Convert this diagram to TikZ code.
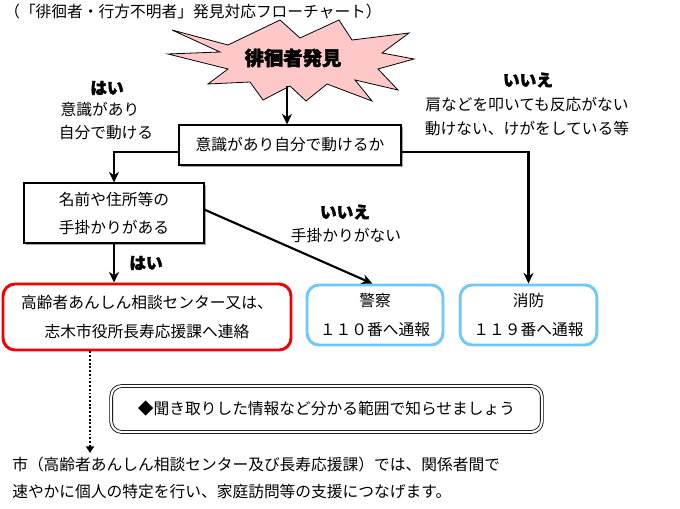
\documentclass[tikz,border=0pt]{standalone}
\usepackage{fontspec}
\setmainfont{Noto Sans CJK JP}
\newfontfamily\heavyfont[BoldFeatures={FakeBold=2}]{Noto Sans CJK JP}
\usetikzlibrary{arrows.meta,shadows,calc}
\definecolor{starpink}{RGB}{255,200,200}
\definecolor{skyb}{RGB}{110,200,250}
\definecolor{redb}{RGB}{240,0,0}
\begin{document}
\begin{tikzpicture}[x=0.75pt,y=-0.75pt,
  font=\fontsize{11.8}{14}\selectfont,
  arr/.style={line width=1.6pt,-{Stealth[length=8pt,width=7.5pt]}},
  dotarr/.style={line width=1.4pt,dash pattern=on 1.4pt off 1.4pt,-{Triangle[length=5pt,width=6pt]}},
  sbox/.style={draw,line width=0.8pt,fill=white,inner sep=0pt,align=center,
    drop shadow={shadow xshift=1.6pt,shadow yshift=-1.6pt,fill=gray!70,opacity=1}},
  rbox/.style={draw,rounded corners=9pt,line width=2.2pt,fill=white,inner sep=0pt,align=center,
    font=\fontsize{11.8}{21.5}\selectfont},
  lbl/.style={font=\fontsize{12.5}{14}\heavyfont\bfseries},
  txt/.style={inner sep=0pt}
]
\useasboundingbox (0,0) rectangle (680,509);

% title
\node[anchor=west,txt] (title) at (4,12) {（「徘徊者・行方不明者」発見対応フローチャート）};

% star burst
\filldraw[fill=starpink,draw=black,line width=0.6pt,line join=miter]
  (172,30) -- (228,45) -- (280,20) -- (300,38) -- (339,20) -- (352,40)
  -- (409,33) -- (382,53) -- (414,59) -- (378,69) -- (398,90) -- (355,80)
  -- (372,101) -- (327,84) -- (306,101) -- (290,86) -- (263,100) -- (250,82)
  -- (208,84) -- (228,69) -- (168,54) -- (220,52) -- cycle;
\node[font=\fontsize{14.5}{16}\heavyfont\bfseries] (star) at (293,58) {徘徊者発見};
\coordinate (starbot) at (287,86);

% boxes
\node[sbox,minimum width=166.5pt,minimum height=30pt] (box1) at (290,145) {意識があり自分で動けるか};
\node[sbox,minimum width=135pt,minimum height=45pt,font=\fontsize{11.8}{21}\selectfont] (box2) at (114,213) {名前や住所等の\\手掛かりがある};
\node[rbox,draw=redb,minimum width=216pt,minimum height=49.5pt] (red) at (147,317) {高齢者あんしん相談センター又は、\\志木市役所長寿応援課へ連絡};
\node[rbox,draw=skyb,minimum width=102pt,minimum height=45pt] (police) at (375,315) {警察\\１１０番へ通報};
\node[rbox,draw=skyb,minimum width=102.5pt,minimum height=45pt] (fire) at (528.5,315) {消防\\１１９番へ通報};
\node[draw,double,double distance=1.6pt,line width=0.6pt,rounded corners=8pt,inner sep=0pt,
  minimum width=323pt,minimum height=34.5pt] (note) at (326.5,409) {◆聞き取りした情報など分かる範囲で知らせましょう};

% labels
\node[lbl] (hai1) at (107,88) {はい};
\node[txt] (y1a) at (100,110) {意識があり};
\node[txt] (y1b) at (106,133) {自分で動ける};
\node[lbl] (iie1) at (528,80) {いいえ};
\node[txt] (n1a) at (527,104) {肩などを叩いても反応がない};
\node[txt] (n1b) at (527,129) {動けない、けがをしている等};
\node[lbl] (iie2) at (345,212) {いいえ};
\node[txt] (n2) at (346,235) {手掛かりがない};
\node[lbl] (hai2) at (146,263) {はい};

% bottom text
\node[anchor=west,txt] (b1) at (12,465) {市（高齢者あんしん相談センター及び長寿応援課）では、関係者間で};
\node[anchor=west,txt] (b2) at (12,492) {速やかに個人の特定を行い、家庭訪問等の支援につなげます。};

% connectors
\draw[arr] (starbot) -- (box1.north -| starbot);
\draw[arr] ([yshift=-5pt]box1.west) -| (box2.north);
\draw[arr] ([yshift=-5pt]box1.east) -| (fire.north);
\draw[arr] ([yshift=2.5pt]box2.east) -- ([xshift=-2pt]police.north);
\draw[arr] (box2.south) -- (red.north -| box2.south);
\coordinate (dend) at (90,453);
\draw[dotarr] (red.south -| dend) -- (dend);
\end{tikzpicture}
\end{document}
